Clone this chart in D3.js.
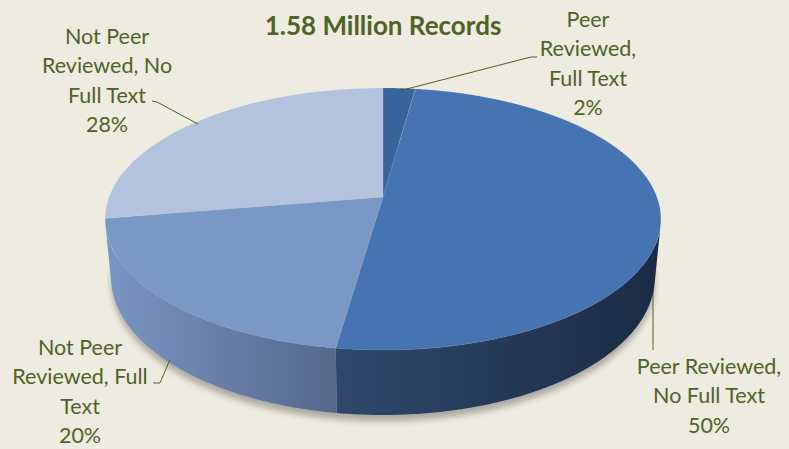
<!DOCTYPE html>
<html>
<head>
<meta charset="utf-8">
<script src="https://d3js.org/d3.v7.min.js"></script>
<style>
  body { margin: 0; background: #eeebe0; }
  svg { display: block; }
  .lbl { font-family: Lato, "Open Sans", sans-serif; font-size: 21.5px; fill: #4f6228; }
  .title { font-family: Lato, "Open Sans", sans-serif; font-size: 26px; font-weight: bold; fill: #4f6228; }
  .leader { fill: none; stroke: #4f6228; stroke-width: 1; }
</style>
</head>
<body>
<svg id="chart" width="789" height="449"></svg>
<script>
// --- data ---
const title = "1.58 Million Records";
const categories = ["Peer Reviewed, Full Text", "Peer Reviewed, No Full Text",
                    "Not Peer Reviewed, Full Text", "Not Peer Reviewed, No Full Text"];
const values = [2.2, 50.1, 20.1, 27.6];
const labelLines = [["Peer", "Reviewed,", "Full Text"],
                    ["Peer Reviewed,", "No Full Text"],
                    ["Not Peer", "Reviewed, Full", "Text"],
                    ["Not Peer", "Reviewed, No", "Full Text"]];

// --- colours ---
const topColors = ["#38639b", "#4674b2", "#7a98c6", "#b4c3dd"];
const sideColors = [["#2a4a75", "#223c60"], ["#2f486b", "#1b2b45"],
                    ["#7a95c4", "#55688a"], ["#8fa1c0", "#8fa1c0"]];

// --- label layout (centre x, first baseline, leader points on label side) ---
const labelLayout = [
  {x: 588, y: 27, leader: [[537, 57], [531, 57]], r: 0.97, z: 0},
  {x: 709, y: 374, leader: [[653, 350]], r: 1, z: 0, vertical: true, behind: true},
  {x: 80, y: 355, leader: [[153, 383], [160, 383]], r: 1, z: -0.95},
  {x: 107, y: 44, leader: [[152, 101], [157, 102]], r: 0.98, z: 0}
];
const lineH = 29.4;

// --- 3d projection of the pie ---
const cx = 383, cy = 197, k = 1443, dist = 5.268, depth = 0.242;
const tilt = 27.7 * Math.PI / 180;
const cT = Math.cos(tilt), sT = Math.sin(tilt);

function proj(a, z, r = 1) {
  const X = r * Math.sin(a), Y = -r * Math.cos(a);
  const yc = -Y * sT + z * cT, zc = dist - (Y * cT + z * sT);
  return [cx + k * X / zc, cy - k * yc / zc];
}
function arcPts(a0, a1, z) {
  const n = Math.max(2, Math.ceil((a1 - a0) / (Math.PI / 360)));
  return d3.range(n + 1).map(i => proj(a0 + (a1 - a0) * i / n, z));
}
const line = d3.line();

const svg = d3.select("#chart");
const defs = svg.append("defs");
defs.append("filter").attr("id", "blur").attr("x", "-10%").attr("y", "-10%")
  .attr("width", "120%").attr("height", "130%")
  .append("feGaussianBlur").attr("stdDeviation", 3);

const arcs = d3.pie().sort(null).value(d => d)(values);

// shadow
svg.append("path")
  .attr("d", line(arcPts(0, 2 * Math.PI, -depth * 1.05)) + "Z")
  .attr("transform", "translate(0,3)")
  .attr("fill", "#000").attr("opacity", 0.28)
  .attr("filter", "url(#blur)");

function leaderPts(i) {
  const L = labelLayout[i], a = arcs[i];
  const mid = (a.startAngle + a.endAngle) / 2;
  let end = proj(mid, L.z * depth, L.r);
  if (L.vertical) end = [L.leader[0][0], end[1]];
  return [...L.leader, end];
}

// leaders that sit behind the pie
const behindG = svg.append("g");
labelLayout.forEach((L, i) => {
  if (L.behind) behindG.append("path").attr("class", "leader").attr("d", line(leaderPts(i)));
});

// outer walls (only the front facing part)
const fA = Math.acos(-1 / (dist * cT)), fB = 2 * Math.PI - fA;
const wallG = svg.append("g");
arcs.forEach((a, i) => {
  const a0 = Math.max(a.startAngle, fA), a1 = Math.min(a.endAngle, fB);
  if (a1 <= a0) return;
  const topP = arcPts(a0, a1, 0), botP = arcPts(a0, a1, -depth).reverse();
  const pts = topP.concat(botP);
  const xs = d3.extent(pts, p => p[0]);
  const g = defs.append("linearGradient").attr("id", "wall" + i)
    .attr("gradientUnits", "userSpaceOnUse")
    .attr("x1", xs[0]).attr("x2", xs[1]).attr("y1", 0).attr("y2", 0);
  g.append("stop").attr("offset", 0).attr("stop-color", sideColors[i][0]);
  g.append("stop").attr("offset", 1).attr("stop-color", sideColors[i][1]);
  wallG.append("path").attr("d", line(pts) + "Z").attr("fill", `url(#wall${i})`);
});

// top faces
svg.append("g").selectAll("path").data(arcs).join("path")
  .attr("d", a => line([[cx, cy], ...arcPts(a.startAngle, a.endAngle, 0)]) + "Z")
  .attr("fill", (a, i) => topColors[i])
  .attr("stroke", "rgba(255,255,255,0.15)").attr("stroke-width", 0.6);

// leaders on top
labelLayout.forEach((L, i) => {
  if (!L.behind) svg.append("path").attr("class", "leader").attr("d", line(leaderPts(i)));
});

// labels
labelLayout.forEach((L, i) => {
  const lines = labelLines[i].concat([Math.round(values[i]) + "%"]);
  const t = svg.append("text").attr("class", "lbl").attr("text-anchor", "middle");
  lines.forEach((s, j) => t.append("tspan").attr("x", L.x).attr("y", L.y + j * lineH).text(s));
});

// title
svg.append("text").attr("class", "title").attr("text-anchor", "middle")
  .attr("x", 383).attr("y", 35).text(title);
</script>
</body>
</html>
